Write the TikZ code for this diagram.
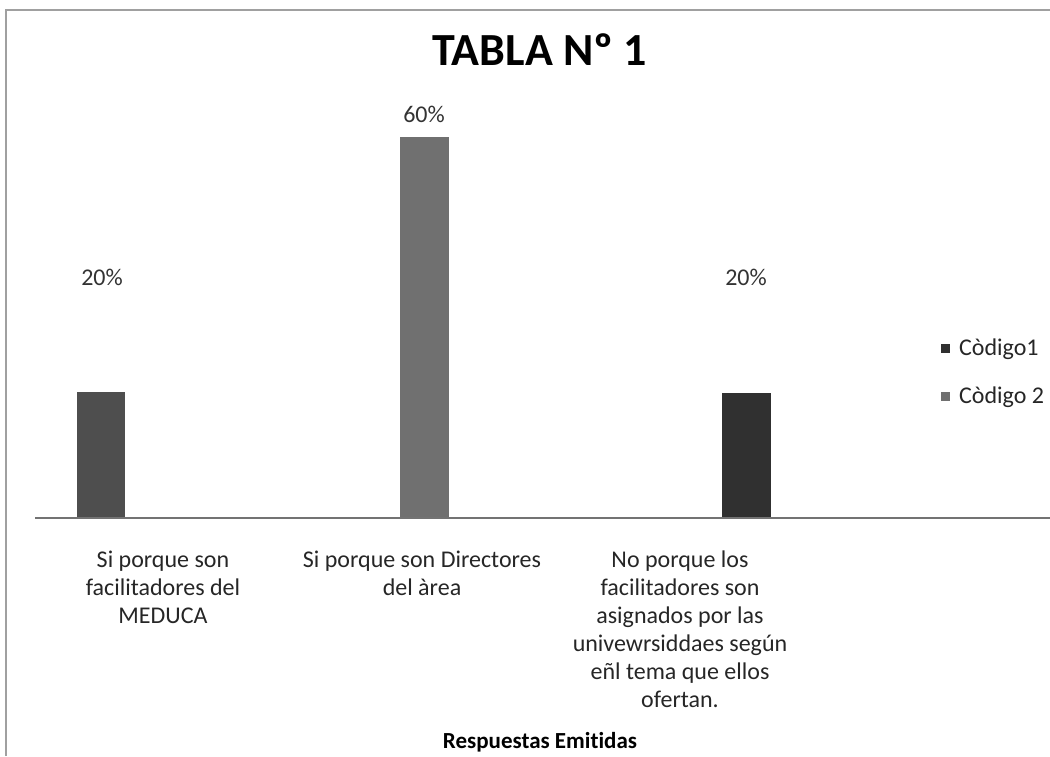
\documentclass[tikz,border=0pt]{standalone}
\usepackage{fontspec}
\setmainfont[Ligatures=NoCommon]{Carlito}
\usetikzlibrary{positioning}
\definecolor{cdark}{RGB}{48,48,48}
\definecolor{cmid}{RGB}{78,78,78}
\definecolor{cgray}{RGB}{112,112,112}
\definecolor{cframe}{RGB}{160,160,160}

\begin{document}
\begin{tikzpicture}[
    x=0.5pt, y=-0.5pt,
    title/.style={font=\bfseries\fontsize{23}{27}\selectfont, text=black},
    val/.style={font=\fontsize{12}{14}\selectfont, text=black!80},
    cat/.style={font=\fontsize{12}{14}\selectfont, align=center, anchor=north, text=black!85},
    leg/.style={font=\fontsize{12}{14}\selectfont, anchor=west, text=black!85},
    axis/.style={draw=black!55, line width=0.9pt},
  ]
  \useasboundingbox (0,0) rectangle (1050,756);

  %% Frame
  \draw[cframe, line width=0.8pt] (6,756) -- (6,10) -- (1050,10);

  %% Title
  \node[title] (title) at (540,50) {TABLA Nº 1};

  %% Bars
  \fill[cmid]  (77,392)  rectangle (125,518);
  \fill[cgray] (400,137) rectangle (449,518);
  \fill[cdark] (722,393) rectangle (771,518);

  %% Axis
  \draw[axis] (35,518) -- (1050,518);

  %% Values
  \node[val] (v1) at (102,277) {20\%};
  \node[val] (v2) at (424,114) {60\%};
  \node[val] (v3) at (746,277) {20\%};

  %% Categories
  \node[cat] (c1) at (163,544) {Si porque son\\facilitadores del\\MEDUCA};
  \node[cat] (c2) at (422,544) {Si porque son Directores\\del àrea};
  \node[cat] (c3) at (680,544) {No porque los\\facilitadores son\\asignados por las\\univewrsiddaes según\\eñl tema que ellos\\ofertan.};
  \node[font=\bfseries\fontsize{11.5}{14}\selectfont] (xlab) at (540,742) {Respuestas Emitidas};

  %% Legend
  \fill[cdark] (941,344) rectangle (950,353);
  \node[leg] (l1) at (952,349) {Còdigo1};
  \fill[cgray] (941,392) rectangle (950,401);
  \node[leg] (l2) at (952,397) {Còdigo 2};

\end{tikzpicture}
\end{document}
